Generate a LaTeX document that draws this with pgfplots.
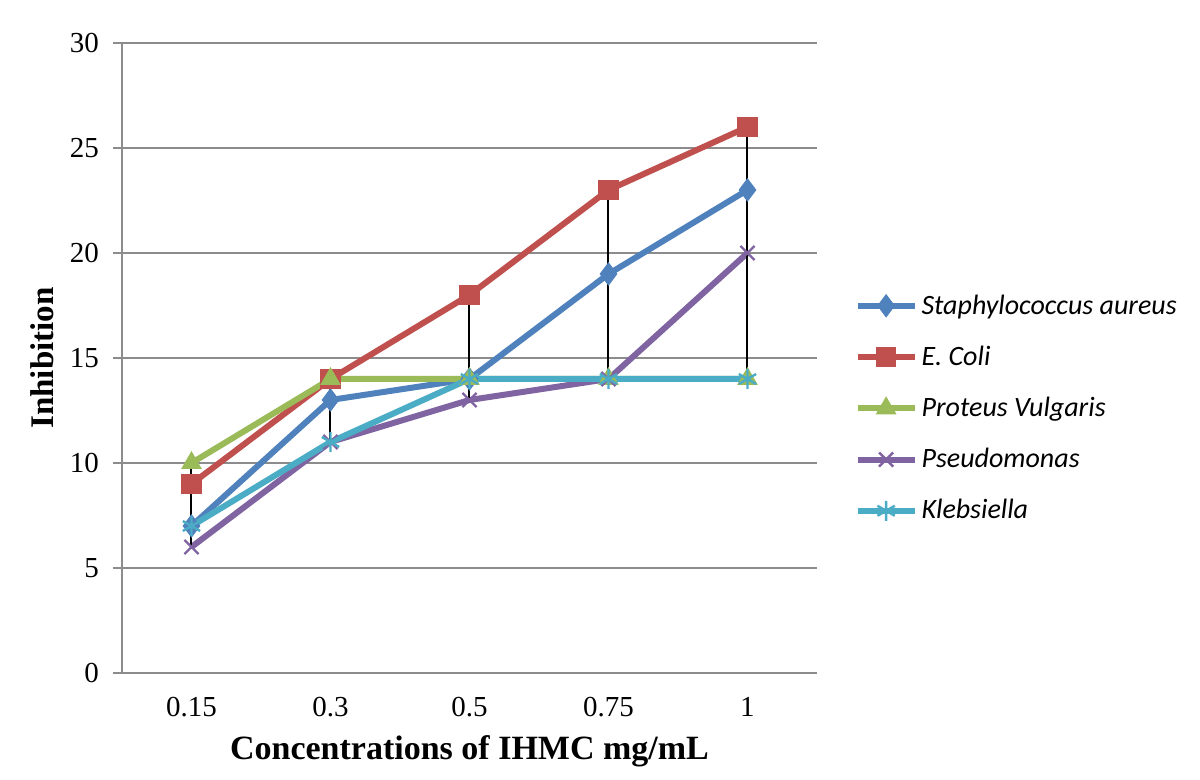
\documentclass[border=0pt]{standalone}
\usepackage{pgfplots}
\pgfplotsset{compat=1.18}
\usepackage{fontspec}
\setmainfont{Liberation Serif}
\newfontfamily\legfont{Carlito}
\definecolor{cA}{HTML}{4F81BD}
\definecolor{cB}{HTML}{C0504D}
\definecolor{cC}{HTML}{9BBB59}
\definecolor{cD}{HTML}{8064A2}
\definecolor{cE}{HTML}{4BACC6}
\definecolor{gridc}{HTML}{8C8C8C}
\begin{document}
\begin{tikzpicture}
\path[use as bounding box] (-61pt,-53.5pt) rectangle (539pt,336.5pt);
\begin{axis}[
  at={(0pt,0pt)}, anchor=south west,
  scale only axis, width=347.5pt, height=315pt,
  xmin=-0.5, xmax=4.5, ymin=0, ymax=30,
  xtick={0,1,2,3,4}, xticklabels={0.15,0.3,0.5,0.75,1},
  ytick={0,5,10,15,20,25,30},
  x tick style={draw=none},
  y tick style={gridc, line width=1pt},
  tick align=outside, major tick length=4.5pt,
  ymajorgrids, grid style={gridc, line width=1pt},
  axis x line*=bottom, axis y line*=left,
  axis line style={-, gridc, line width=1pt},
  /pgf/number format/assume math mode=true,
  ticklabel style={font=\fontsize{14.5}{16}\selectfont},
  xticklabel style={yshift=-4pt},
  yticklabel style={xshift=-3.5pt},
  xlabel={Concentrations of IHMC mg/mL},
  ylabel={Inhibition},
  xlabel style={font=\bfseries\fontsize{17}{19}\selectfont, at={(axis description cs:0.5,-0.125)}, anchor=center},
  ylabel style={font=\bfseries\fontsize{16.5}{19}\selectfont, at={(axis description cs:-0.115,0.5)}, anchor=center},
  legend style={at={(axis description cs:1.045,0.614)}, anchor=north west, draw=none, fill=none,
    font=\legfont\itshape\fontsize{14}{16}\selectfont, row sep=10.4pt},
  legend cell align=left,
  legend image code/.code={\draw[mark repeat=2,mark phase=2,#1] plot coordinates {(0cm,0cm) (0.5cm,0cm) (1.0cm,0cm)};},
  every axis plot/.append style={line width=3pt},
]
\addplot[cA, mark=diamond*, mark size=5.5pt, mark options={line width=0.5pt}] coordinates {(0,7) (1,13) (2,14) (3,19) (4,23)};
\addlegendentry{Staphylococcus aureus}
\addplot[cB, mark=square*, mark size=4.8pt, mark options={line width=0.5pt}] coordinates {(0,9) (1,14) (2,18) (3,23) (4,26)};
\addlegendentry{E. Coli}
\addplot[cC, mark=triangle*, mark size=5.5pt, mark options={line width=0.5pt}] coordinates {(0,10) (1,14) (2,14) (3,14) (4,14)};
\addlegendentry{Proteus Vulgaris}
\addplot[cD, mark=x, mark size=5pt, mark options={line width=1.2pt}] coordinates {(0,6) (1,11) (2,13) (3,14) (4,20)};
\addlegendentry{Pseudomonas}
\addplot[cE, mark=asterisk, mark size=5pt, mark options={line width=1.2pt}] coordinates {(0,7) (1,11) (2,14) (3,14) (4,14)};
\addlegendentry{Klebsiella}
\addplot[black, line width=1pt, forget plot] coordinates {(0,6) (0,10)};
\addplot[black, line width=1pt, forget plot] coordinates {(1,11) (1,14)};
\addplot[black, line width=1pt, forget plot] coordinates {(2,13) (2,18)};
\addplot[black, line width=1pt, forget plot] coordinates {(3,14) (3,23)};
\addplot[black, line width=1pt, forget plot] coordinates {(4,14) (4,26)};
\end{axis}
\end{tikzpicture}
\end{document}
